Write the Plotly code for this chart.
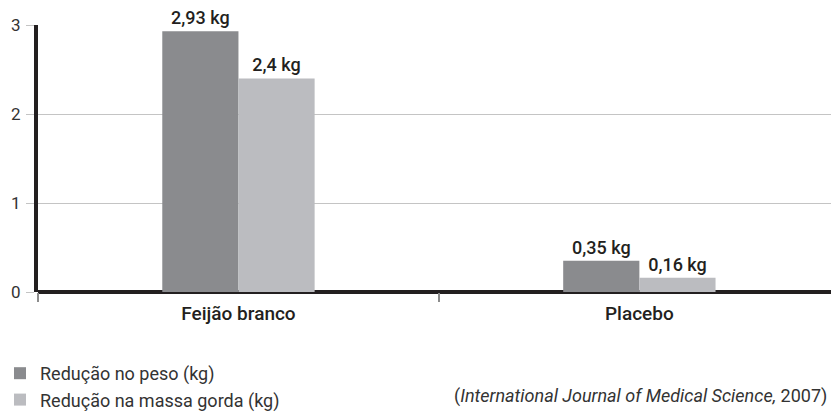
import plotly.graph_objects as go

categories = ["Feijão branco", "Placebo"]
peso = [2.93, 0.35]
massa_gorda = [2.4, 0.16]
series_names = ["Redução no peso (kg)", "Redução na massa gorda (kg)"]
y_ticks = [0, 1, 2, 3]

FONT = "Roboto"
DARK = "#8a8b8e"
LIGHT = "#bbbcc0"
INK = "#231f20"


def kg_label(v):
    return str(v).replace(".", ",") + " kg"


fig = go.Figure()
for name, vals, color in [(series_names[0], peso, DARK),
                          (series_names[1], massa_gorda, LIGHT)]:
    fig.add_trace(go.Bar(
        x=categories, y=vals, name=name,
        marker=dict(color=color, line=dict(width=0)),
        text=[kg_label(v) for v in vals],
        textposition="outside",
        textfont=dict(family=FONT, size=18, color=INK, weight=500),
        cliponaxis=False,
    ))

fig.add_annotation(
    text="(<i>International Journal of Medical Science,</i> 2007)",
    xref="paper", yref="paper", x=0.998, y=-0.39,
    xanchor="right", yanchor="middle", showarrow=False,
    font=dict(family=FONT, size=18, color="#333333"),
)

fig.update_layout(
    width=831, height=417,
    margin=dict(l=38, r=0, t=25, b=125),
    paper_bgcolor="white", plot_bgcolor="white",
    barmode="group", bargap=0.62, bargroupgap=0,
    font=dict(family=FONT, size=16, color=INK),
    showlegend=True,
    legend=dict(
        orientation="v", xref="paper", yref="container",
        x=-0.062, xanchor="left", y=0.1487, yanchor="top",
        font=dict(family=FONT, size=18, color="#333333"),
        itemwidth=30, traceorder="normal",
    ),
    xaxis=dict(
        range=[-0.5, 1.478], showgrid=False,
        showline=False, ticks="outside", tickson="boundaries",
        ticklen=9, tickwidth=2, tickcolor="#8c8c8c",
        ticklabelstandoff=8,
        tickfont=dict(family=FONT, size=19, color=INK, weight=500),
        fixedrange=True,
    ),
    yaxis=dict(
        range=[0, 3], tickvals=y_ticks,
        showgrid=True, gridcolor="#c4c4c4", gridwidth=1,
        zeroline=True, zerolinecolor=INK, zerolinewidth=4,
        showline=True, linecolor=INK, linewidth=4,
        ticks="outside", ticklen=8, tickcolor="#c4c4c4", tickwidth=1,
        ticklabelstandoff=2,
        tickfont=dict(family=FONT, size=17, color="#333333"),
        fixedrange=True,
    ),
)

fig.write_html("out.html")
